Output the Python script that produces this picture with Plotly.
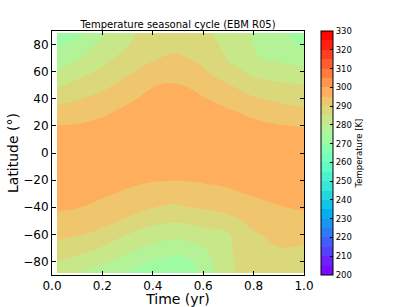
import math
import plotly.graph_objects as go

# ---------------- data ----------------
time_yr = [0.02, 0.1, 0.2, 0.3, 0.4, 0.45, 0.5, 0.55, 0.6, 0.7, 0.8, 0.9, 1.0]
latitude = [-88.5, -80, -70, -60, -50, -40, -30, -20, -10, 0,
            10, 20, 30, 40, 50, 60, 70, 80, 88.5]

# temperature profiles (K), south -> north, one list per time
T_t002 = [281.5, 284.9, 288.2, 291.2, 293.6, 295.5, 296.7, 297.9, 298.7, 297.4, 296.2, 295.1, 291.8, 288.2, 284.2, 279.95, 276.9, 273.9, 271.5]
T_t010 = [280.3, 283.4, 287.0, 290.5, 292.9, 295.2, 296.3, 297.5, 298.7, 297.7, 296.6, 295.4, 292.9, 289.7, 286.5, 283.0, 279.5, 276.3, 273.5]
T_t020 = [276.5, 280.9, 284.6, 288.6, 291.5, 293.8, 295.6, 296.8, 298.0, 298.4, 297.2, 296.0, 294.4, 291.6, 288.7, 286.0, 283.5, 281.2, 279.3]
T_t030 = [274.5, 277.8, 281.6, 285.0, 289.2, 292.0, 294.4, 295.9, 297.1, 298.2, 298.2, 297.0, 295.9, 294.4, 291.8, 289.3, 286.8, 284.7, 283.8]
T_t040 = [272.5, 274.6, 278.7, 282.6, 286.3, 290.1, 293.0, 295.3, 296.4, 297.5, 298.6, 297.9, 296.9, 296.0, 294.8, 291.8, 289.5, 288.4, 287.5]
T_t045 = [271.8, 274.0, 277.7, 281.9, 285.8, 289.6, 292.6, 295.2, 296.2, 297.2, 298.2, 298.4, 297.3, 296.3, 295.3, 293.3, 290.3, 288.9, 288.0]
T_t050 = [271.5, 273.6, 276.8, 281.3, 285.5, 289.3, 292.4, 295.1, 296.2, 297.2, 298.3, 298.3, 297.2, 296.2, 295.2, 293.1, 290.6, 288.8, 287.9]
T_t055 = [273.5, 274.8, 278.5, 282.3, 286.2, 290.05, 292.9, 295.3, 296.4, 297.4, 298.5, 298.0, 296.9, 296.0, 294.6, 292.1, 289.7, 288.5, 287.4]
T_t060 = [276.0, 277.7, 279.6, 283.0, 286.8, 290.6, 293.3, 295.5, 296.6, 297.8, 298.7, 297.6, 296.4, 295.3, 293.1, 290.6, 288.9, 287.5, 286.3]
T_t070 = [283.9, 284.1, 284.4, 284.7, 288.4, 291.8, 294.3, 295.9, 297.1, 298.3, 298.0, 296.8, 295.6, 293.4, 290.3, 287.0, 284.6, 283.4, 282.5]
T_t080 = [287.6, 288.0, 288.6, 289.5, 291.3, 293.5, 295.4, 296.6, 297.9, 298.5, 297.2, 296.0, 294.1, 290.5, 287.1, 283.8, 280.4, 279.9, 279.8]
T_t090 = [288.8, 289.3, 289.9, 291.3, 293.1, 294.8, 296.1, 297.3, 298.6, 297.8, 296.6, 295.3, 292.4, 289.0, 286.0, 282.0, 279.1, 277.5, 276.2]
T_t100 = [287.5, 288.4, 289.5, 291.3, 293.6, 295.5, 296.7, 297.9, 298.7, 297.4, 296.1, 294.8, 291.1, 288.1, 285.3, 281.3, 277.2, 274.1, 272.5]

temp_columns = [T_t002, T_t010, T_t020, T_t030, T_t040, T_t045, T_t050,
                T_t055, T_t060, T_t070, T_t080, T_t090, T_t100]

x_ticks = [0.0, 0.2, 0.4, 0.6, 0.8, 1.0]
y_ticks = [-80, -60, -40, -20, 0, 20, 40, 60, 80]
cbar_ticks = [200, 210, 220, 230, 240, 250, 260, 270, 280, 290, 300, 310, 320, 330]

# z[row=latitude][col=time]
z = [list(row) for row in zip(*temp_columns)]

# ---------------- style: matplotlib "rainbow", 5 K bands ----------------
LEV_START, LEV_END, LEV_STEP = 200, 330, 5


def rainbow(v):
    r = min(1, max(0, abs(2 * v - 0.5)))
    g = min(1, max(0, math.sin(math.pi * v)))
    b = min(1, max(0, math.cos(math.pi * v / 2)))
    return "rgb(%d,%d,%d)" % (round(r * 255), round(g * 255), round(b * 255))


n_lev = (LEV_END - LEV_START) // LEV_STEP + 1
lo = LEV_START - LEV_STEP / 2
hi = LEV_END + LEV_STEP / 2
colorscale = [[0.0, rainbow(0.0)]]
for k in range(n_lev - 1):
    c = LEV_START + LEV_STEP * (k + 0.5)
    colorscale.append([(c - lo) / (hi - lo), rainbow((c - LEV_START) / (LEV_END - LEV_START))])
colorscale.append([1.0, rainbow(1.0)])

FONT = "DejaVu Sans"
L, R, T, B = 52, 105, 31, 32
W, H = 409, 307
PW = W - L - R

fig = go.Figure(
    go.Contour(
        x=time_yr,
        y=latitude,
        z=z,
        colorscale=colorscale,
        zmin=LEV_START,
        zmax=LEV_END,
        autocontour=False,
        contours=dict(start=LEV_START, end=LEV_END, size=LEV_STEP, coloring="fill"),
        line=dict(width=0, smoothing=1.3),
        colorbar=dict(
            x=(320.7 - L) / PW,
            xanchor="left",
            xpad=0,
            ypad=0,
            y=0.5,
            yanchor="middle",
            len=1,
            lenmode="fraction",
            thickness=12,
            thicknessmode="pixels",
            outlinewidth=1,
            outlinecolor="black",
            tickvals=cbar_ticks,
            ticks="inside",
            ticklen=3,
            tickcolor="black",
            tickfont=dict(family=FONT, size=8.5, color="black"),
            title=dict(text="Temperature [K]", side="right",
                       font=dict(family=FONT, size=8.5, color="black")),
        ),
        hoverinfo="skip",
    )
)

axis_common = dict(
    showgrid=False,
    zeroline=False,
    showline=True,
    linecolor="black",
    linewidth=1,
    mirror="ticks",
    ticks="inside",
    ticklen=4,
    tickwidth=1,
    tickcolor="black",
    automargin=False,
    tickfont=dict(family=FONT, size=12, color="black"),
)

fig.update_layout(
    width=W,
    height=H,
    margin=dict(l=L, r=R, t=T, b=B, autoexpand=False),
    paper_bgcolor="white",
    plot_bgcolor="white",
    font=dict(family=FONT, color="black"),
    title=dict(
        text="Temperature seasonal cycle (EBM R05)",
        font=dict(family=FONT, size=10, color="black"),
        x=0.5,
        xref="paper",
        xanchor="center",
        y=1 - 24 / H,
        yref="container",
        yanchor="middle",
    ),
    xaxis=dict(
        range=[0, 1],
        tickvals=x_ticks,
        tickformat=".1f",
        title=dict(text="Time (yr)", font=dict(family=FONT, size=14, color="black"), standoff=0),
        **axis_common,
    ),
    yaxis=dict(
        range=[-90, 90],
        tickvals=y_ticks,
        title=dict(text="Latitude (°)", font=dict(family=FONT, size=14, color="black"), standoff=1),
        **axis_common,
    ),
)

fig.write_html(
    "out.html",
    config={"displayModeBar": False, "staticPlot": True},
    post_script="document.body.style.margin='0';document.body.style.overflow='hidden';",
)
